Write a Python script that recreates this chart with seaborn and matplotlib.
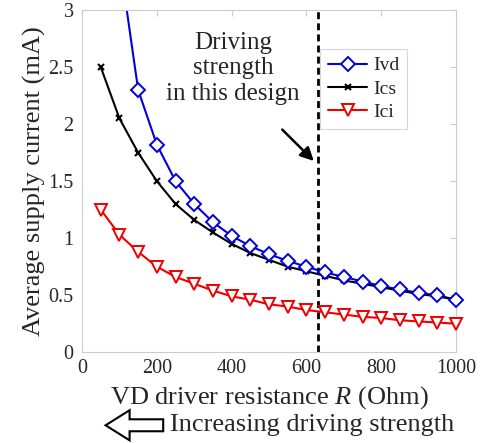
import pandas as pd
import seaborn as sns
import matplotlib.pyplot as plt
from matplotlib.patches import FancyArrow
from matplotlib.lines import Line2D

# Data
r_ohm = [50, 100, 150, 200, 250, 300, 350, 400, 450, 500,
         550, 600, 650, 700, 750, 800, 850, 900, 950, 1000]
ivd = [6.9, 3.45, 2.30, 1.82, 1.50, 1.30, 1.14, 1.02, 0.93, 0.86,
       0.80, 0.75, 0.70, 0.66, 0.62, 0.58, 0.55, 0.52, 0.50, 0.46]
ics = [2.50, 2.05, 1.75, 1.50, 1.30, 1.16, 1.05, 0.95, 0.87, 0.81,
       0.75, 0.71, 0.67, 0.63, 0.60, 0.57, 0.54, 0.51, 0.49, 0.46]
ici = [1.25, 1.03, 0.88, 0.75, 0.66, 0.60, 0.54, 0.49, 0.46, 0.42,
       0.40, 0.37, 0.35, 0.33, 0.31, 0.30, 0.28, 0.27, 0.26, 0.25]
design_r = 630

sns.set_style("white")
plt.rcParams['font.family'] = ['Liberation Serif', 'DejaVu Serif']
plt.rcParams['mathtext.fontset'] = 'custom'
plt.rcParams['mathtext.it'] = 'Liberation Serif:italic'
plt.rcParams['mathtext.rm'] = 'Liberation Serif'

df = pd.DataFrame({'R': r_ohm, 'Ivd': ivd, 'Ics': ics, 'Ici': ici})
blue, red = '#0000dd', '#ee0000'

fig = plt.figure(figsize=(4.8, 4.43), dpi=100)
ax = fig.add_axes([0.171, 0.205, 0.779, 0.772])

# Ivd: line clipped to the axes, markers only where inside range
sns.lineplot(data=df, x='R', y='Ivd', ax=ax, color=blue, linewidth=1.5)
sns.lineplot(data=df[df['Ivd'] <= 3], x='R', y='Ivd', ax=ax, color=blue,
             marker='D', markersize=7, markerfacecolor='white',
             markeredgecolor=blue, markeredgewidth=1.4, linestyle='none',
             clip_on=False, zorder=3)
sns.lineplot(data=df, x='R', y='Ics', ax=ax, color='black', marker='x',
             markersize=5, markeredgecolor='black', markeredgewidth=1.5,
             linewidth=1.5, clip_on=False, zorder=2.5)
sns.lineplot(data=df, x='R', y='Ici', ax=ax, color=red, marker='v',
             markersize=9, markerfacecolor='white', markeredgecolor=red,
             markeredgewidth=1.4, linewidth=1.5, clip_on=False, zorder=3)

ax.axvline(design_r, color='black', linestyle=(0, (2.5, 1.5)), linewidth=2)

ax.set_xlim(0, 1000)
ax.set_ylim(0, 3)
ax.set_xticks([0, 200, 400, 600, 800, 1000])
ax.set_yticks([0, 0.5, 1, 1.5, 2, 2.5, 3])
ax.set_yticklabels(['0', '0.5', '1', '1.5', '2', '2.5', '3'])
ax.tick_params(axis='both', labelsize=14.5, direction='in', length=4,
               color='#cccccc', top=True, right=True)
ax.tick_params(axis='x', pad=5)
ax.tick_params(axis='y', pad=6)
for s in ax.spines.values():
    s.set_color('#cccccc')
    s.set_linewidth(0.8)

ax.set_xlabel('VD driver resistance $R$ (Ohm)', fontsize=19, labelpad=4)
ax.set_ylabel('Average supply current (mA)', fontsize=19, labelpad=2)

handles = [
    Line2D([], [], color=blue, marker='D', markersize=7, markerfacecolor='white',
           markeredgecolor=blue, markeredgewidth=1.4, lw=1.5),
    Line2D([], [], color='black', marker='x', markersize=5, markeredgewidth=1.5, lw=1.5),
    Line2D([], [], color=red, marker='v', markersize=9, markerfacecolor='white',
           markeredgecolor=red, markeredgewidth=1.4, lw=1.5),
]
leg = ax.legend(handles, ['Ivd', 'Ics', 'Ici'], loc='upper right',
                bbox_to_anchor=(0.895, 0.915), fontsize=14, frameon=True,
                fancybox=False, handlelength=2.0, borderpad=0.4,
                labelspacing=0.3, handletextpad=0.3)
leg.get_frame().set_edgecolor('#cccccc')
leg.get_frame().set_linewidth(0.8)

ax.text(404, 2.49, 'Driving\nstrength\nin this design', fontsize=18,
        ha='center', va='center', linespacing=1.2)
ax.annotate('', xy=(design_r - 5, 1.66), xytext=(530, 1.97),
            arrowprops=dict(arrowstyle='-|>', color='black', lw=1.8,
                            mutation_scale=20))

# hollow arrow under the x label
fig.patches.append(FancyArrow(0.34, 0.04, -0.12, 0, width=0.027,
                              head_width=0.068, head_length=0.05,
                              length_includes_head=True, facecolor='white',
                              edgecolor='black', linewidth=1.5,
                              transform=fig.transFigure, figure=fig))
fig.text(0.355, 0.04, 'Increasing driving strength', fontsize=19,
         ha='left', va='center')

fig.savefig('out.png', dpi=100)
